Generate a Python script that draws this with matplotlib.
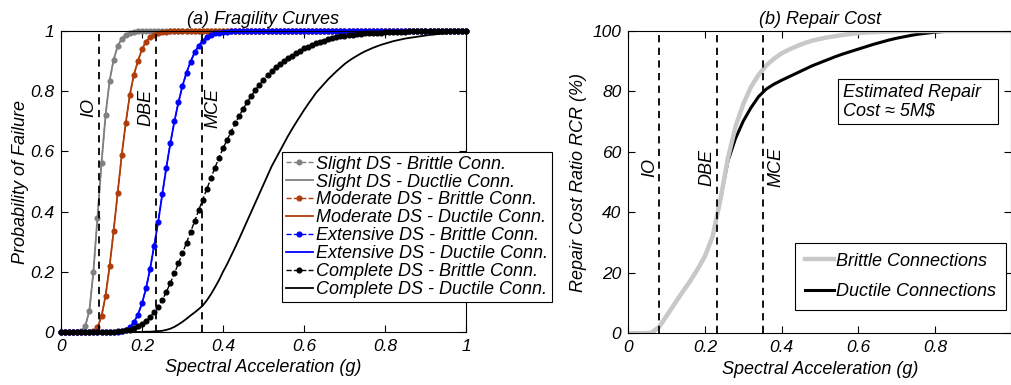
import numpy as np
import matplotlib
matplotlib.use("Agg")
import matplotlib.pyplot as plt
from matplotlib.patches import Rectangle

plt.rcParams['font.family'] = ['Liberation Sans', 'DejaVu Sans']
plt.rcParams['font.style'] = 'italic'

# ---- (a) fragility curves, Sa grid 0..1 step 0.01
sa = np.round(np.arange(0, 1.001, 0.01), 2)

slight = [0, 0, 0, 0, 0, 0.002, 0.02, 0.07, 0.20, 0.38,
          0.56, 0.72, 0.835, 0.905, 0.95, 0.975, 0.988, 0.994, 0.997, 0.999,
          1, 1, 1, 1, 1, 1, 1, 1, 1, 1,
          1, 1, 1, 1, 1, 1, 1, 1, 1, 1,
          1, 1, 1, 1, 1, 1, 1, 1, 1, 1,
          1, 1, 1, 1, 1, 1, 1, 1, 1, 1,
          1, 1, 1, 1, 1, 1, 1, 1, 1, 1,
          1, 1, 1, 1, 1, 1, 1, 1, 1, 1,
          1, 1, 1, 1, 1, 1, 1, 1, 1, 1,
          1, 1, 1, 1, 1, 1, 1, 1, 1, 1, 1]

moderate = [0, 0, 0, 0, 0, 0, 0, 0, 0.003, 0.015,
            0.052, 0.12, 0.218, 0.337, 0.463, 0.588, 0.696, 0.788, 0.855, 0.90,
            0.94, 0.965, 0.98, 0.988, 0.993, 0.996, 0.998, 0.999, 1, 1,
            1, 1, 1, 1, 1, 1, 1, 1, 1, 1,
            1, 1, 1, 1, 1, 1, 1, 1, 1, 1,
            1, 1, 1, 1, 1, 1, 1, 1, 1, 1,
            1, 1, 1, 1, 1, 1, 1, 1, 1, 1,
            1, 1, 1, 1, 1, 1, 1, 1, 1, 1,
            1, 1, 1, 1, 1, 1, 1, 1, 1, 1,
            1, 1, 1, 1, 1, 1, 1, 1, 1, 1, 1]

extensive = [0, 0, 0, 0, 0, 0, 0, 0, 0, 0,
             0, 0, 0, 0, 0.001, 0.003, 0.007, 0.016, 0.032, 0.058,
             0.095, 0.145, 0.21, 0.287, 0.366, 0.457, 0.546, 0.627, 0.70, 0.763,
             0.818, 0.862, 0.898, 0.929, 0.951, 0.968, 0.979, 0.987, 0.992, 0.995,
             0.997, 0.998, 0.999, 1, 1, 1, 1, 1, 1, 1,
             1, 1, 1, 1, 1, 1, 1, 1, 1, 1,
             1, 1, 1, 1, 1, 1, 1, 1, 1, 1,
             1, 1, 1, 1, 1, 1, 1, 1, 1, 1,
             1, 1, 1, 1, 1, 1, 1, 1, 1, 1,
             1, 1, 1, 1, 1, 1, 1, 1, 1, 1, 1]

complete_brittle = [0, 0, 0, 0, 0, 0, 0, 0, 0, 0,
                    0, 0, 0, 0.001, 0.002, 0.003, 0.005, 0.008, 0.013, 0.019,
                    0.026, 0.036, 0.05, 0.066, 0.084, 0.106, 0.133, 0.163, 0.195, 0.228,
                    0.262, 0.297, 0.333, 0.368, 0.405, 0.44, 0.475, 0.51, 0.546, 0.578,
                    0.61, 0.638, 0.665, 0.693, 0.718, 0.742, 0.764, 0.785, 0.804, 0.822,
                    0.838, 0.853, 0.866, 0.879, 0.89, 0.90, 0.91, 0.918, 0.926, 0.935,
                    0.942, 0.948, 0.954, 0.96, 0.964, 0.968, 0.972, 0.976, 0.979, 0.982,
                    0.984, 0.986, 0.988, 0.99, 0.991, 0.992, 0.993, 0.994, 0.995, 0.995,
                    0.996, 0.997, 0.997, 0.998, 0.998, 0.998, 0.999, 0.999, 0.999, 0.999,
                    1, 1, 1, 1, 1, 1, 1, 1, 1, 1, 1]

complete_ductile = [0, 0, 0, 0, 0, 0, 0, 0, 0, 0,
                    0, 0, 0, 0, 0, 0, 0, 0, 0, 0,
                    0, 0.001, 0.001, 0.002, 0.003, 0.004, 0.007, 0.011, 0.017, 0.025,
                    0.034, 0.044, 0.055, 0.065, 0.076, 0.088, 0.105, 0.125, 0.148, 0.172,
                    0.20, 0.225, 0.253, 0.281, 0.31, 0.34, 0.37, 0.40, 0.43, 0.46,
                    0.49, 0.52, 0.55, 0.575, 0.60, 0.625, 0.65, 0.673, 0.695, 0.716,
                    0.737, 0.757, 0.776, 0.795, 0.81, 0.825, 0.84, 0.853, 0.866, 0.878,
                    0.89, 0.90, 0.909, 0.917, 0.925, 0.932, 0.938, 0.944, 0.949, 0.954,
                    0.958, 0.962, 0.966, 0.969, 0.972, 0.975, 0.977, 0.979, 0.981, 0.983,
                    0.985, 0.987, 0.988, 0.99, 0.991, 0.992, 0.994, 0.995, 0.996, 0.997, 0.998]

# ---- (b) repair cost ratio, Sa grid step 0.02
rc_sa = np.round(np.arange(0, 1.001, 0.02), 2)
rcr_brittle = [0, 0, 0, 0.2, 2.0, 5.8, 9.6, 13.4, 17.0, 21.0,
               25.5, 32.0, 44.0, 58.0, 68.5, 75.8, 81.5, 85.5, 88.6, 90.8,
               92.6, 93.9, 95.0, 96.0, 96.8, 97.4, 97.9, 98.3, 98.7, 99.0,
               99.3, 99.5, 99.6, 99.7, 99.8, 99.9, 100, 100, 100, 100,
               100, 100, 100, 100, 100, 100, 100, 100, 100, 100, 100]
rcr_ductile = [0, 0, 0, 0.2, 2.0, 5.8, 9.6, 13.4, 17.0, 21.0,
               25.5, 32.0, 44.0, 57.0, 64.5, 70.2, 74.6, 78.3, 80.8, 82.4,
               83.7, 84.9, 86.1, 87.3, 88.5, 89.5, 90.5, 91.5, 92.4, 93.2,
               94.0, 94.8, 95.6, 96.3, 97.0, 97.6, 98.1, 98.6, 99.0, 99.3,
               99.6, 99.8, 99.9, 100, 100, 100, 100, 100, 100, 100, 100]

hazard_names = ['IO', 'DBE', 'MCE']
hazard_a = [0.093, 0.235, 0.348]
hazard_b = [0.08, 0.232, 0.351]

fs = 13

fig = plt.figure(figsize=(10.12, 3.85), dpi=100)
ax1 = fig.add_axes([61/1012, 53/385, 405/1012, 301/385])
ax2 = fig.add_axes([628.3/1012, 51.7/385, 383.2/1012, 302.3/385])

# (a)
series = [('Slight', slight, slight, '#808080'),
          ('Moderate', moderate, moderate, '#AE3D0B'),
          ('Extensive', extensive, extensive, '#0000FF'),
          ('Complete', complete_brittle, complete_ductile, '#000000')]
for name, yb, yd, c in series:
    duct = 'Ductlie' if name == 'Slight' else 'Ductile'
    ax1.plot(sa, yb, ls='--', marker='o', ms=3.4, lw=1.0, color=c,
             clip_on=False, label=name + ' DS - Brittle Conn.')
    ax1.plot(sa, yd, ls='-', lw=1.3, color=c,
             label=name + ' DS - ' + duct + ' Conn.')

for v in hazard_a:
    ax1.axvline(v, color='k', ls=(0, (4, 3)), lw=1.3)
for name, xt in zip(hazard_names, [0.0675, 0.209, 0.376]):
    ax1.text(xt, 0.745, name, rotation=90, ha='center', va='center', fontsize=fs)

ax1.set_xlim(0, 1)
ax1.set_ylim(0, 1)
ax1.set_xticks([0, 0.2, 0.4, 0.6, 0.8, 1], ['0', '0.2', '0.4', '0.6', '0.8', '1'])
ax1.set_yticks([0, 0.2, 0.4, 0.6, 0.8, 1], ['0', '0.2', '0.4', '0.6', '0.8', '1'])
ax1.set_xlabel('Spectral Acceleration (g)', fontsize=fs, labelpad=4)
ax1.set_ylabel('Probability of Failure', fontsize=fs, labelpad=1)
ax1.set_title('(a) Fragility Curves', fontsize=fs, pad=5)
leg = ax1.legend(loc='upper left', bbox_to_anchor=(0.546, 0.598), fontsize=fs,
                 frameon=True, fancybox=False, framealpha=1, edgecolor='k',
                 borderaxespad=0, borderpad=0.2, labelspacing=0.05,
                 handlelength=1.5, handletextpad=0.2, numpoints=1)
leg.get_frame().set_linewidth(0.8)

# (b)
ax2.plot(rc_sa, rcr_ductile, color='k', lw=2.2, label='Ductile Connections')
ax2.plot(rc_sa, rcr_brittle, color='#C8C8C8', lw=3.2, label='Brittle Connections')
for v in hazard_b:
    ax2.axvline(v, color='k', ls=(0, (4, 3)), lw=1.3)
for name, xt in zip(hazard_names, [0.056, 0.204, 0.385]):
    ax2.text(xt, 55, name, rotation=90, ha='center', va='center', fontsize=fs)

ax2.add_patch(Rectangle((0.5465, 0.691), 0.419, 0.150, transform=ax2.transAxes,
                        fc='white', ec='k', lw=0.8, zorder=4))
ax2.text(0.559, 0.766, 'Estimated Repair\nCost \u2248 5M$', transform=ax2.transAxes,
         ha='left', va='center', fontsize=fs, linespacing=1.05, zorder=5)

ax2.set_xlim(0, 1)
ax2.set_ylim(0, 100)
ax2.set_xticks([0, 0.2, 0.4, 0.6, 0.8], ['0', '0.2', '0.4', '0.6', '0.8'])
ax2.set_yticks([0, 20, 40, 60, 80, 100], ['0', '20', '40', '60', '80', '100'])
ax2.set_xlabel('Spectral Acceleration (g)', fontsize=fs, labelpad=4)
ax2.set_ylabel('Repair Cost Ratio RCR (%)', fontsize=fs, labelpad=4)
ax2.set_title('(b) Repair Cost', fontsize=fs, pad=5)
h, l = ax2.get_legend_handles_labels()
leg2 = ax2.legend(h[::-1], l[::-1], loc='upper left', bbox_to_anchor=(0.434, 0.30),
                  fontsize=fs, frameon=True, fancybox=False, framealpha=1, edgecolor='k',
                  borderaxespad=0, borderpad=0.55, labelspacing=0.75,
                  handlelength=1.65, handletextpad=0.1)
leg2.get_frame().set_linewidth(0.8)

for ax in (ax1, ax2):
    ax.tick_params(direction='in', top=True, right=True, length=5, width=0.8,
                   labelsize=12.5, pad=5)
    for s in ax.spines.values():
        s.set_linewidth(0.8)

fig.savefig('out.png', dpi=100)
